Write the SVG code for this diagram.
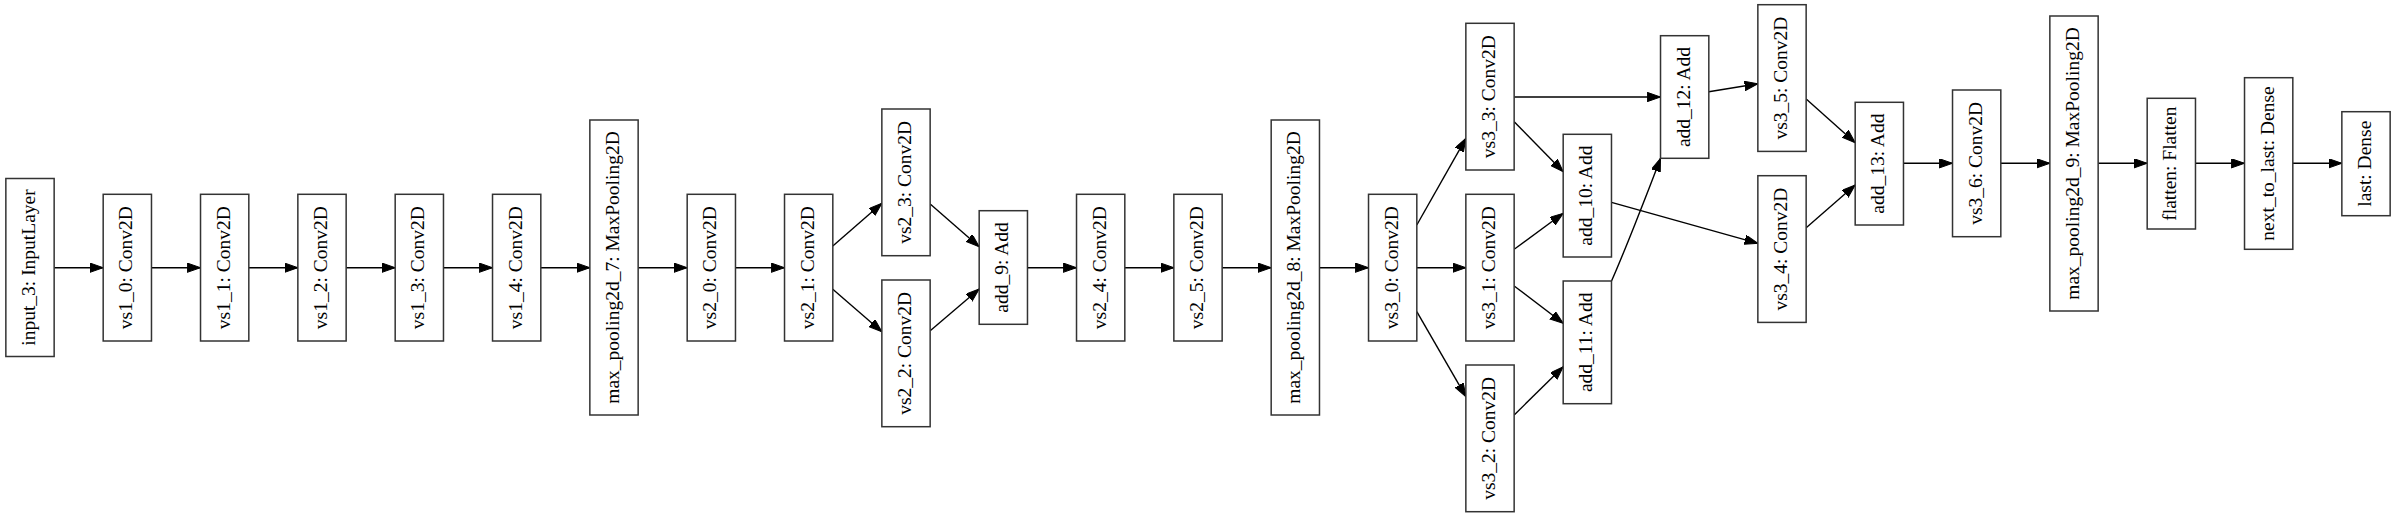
<svg xmlns="http://www.w3.org/2000/svg" width="2396" height="517" viewBox="0 0 2396 517">
<defs>
<style>
.node rect{fill:#fff;stroke:#333;stroke-width:1.5}
.node text{font-family:"Liberation Serif","Times New Roman",serif;font-size:19.5px;fill:#000;text-anchor:middle}
.edges path{fill:none;stroke:#000;stroke-width:1.4;marker-end:url(#ah)}
</style>
<marker id="ah" markerUnits="userSpaceOnUse" markerWidth="14" markerHeight="10" refX="13.3" refY="4.67" orient="auto">
<path d="M0,0 L13.3,4.67 L0,9.33 z" fill="#000" stroke="#000" stroke-width="1"/>
</marker>
</defs>
<rect width="2396" height="517" fill="#fff"/>
<g class="edges">
<path d="M54.2,267.7 L103.2,267.7"/>
<path d="M151.5,267.7 L200.5,267.7"/>
<path d="M248.8,267.7 L297.9,267.7"/>
<path d="M346.2,267.7 L395.2,267.7"/>
<path d="M443.5,267.7 L492.5,267.7"/>
<path d="M540.8,267.7 L589.9,267.7"/>
<path d="M638.2,267.7 L687.2,267.7"/>
<path d="M735.5,267.7 L784.5,267.7"/>
<path d="M832.8,246 L881.9,203.3"/>
<path d="M832.8,289.3 L881.9,331.7"/>
<path d="M930.2,204 L979.2,246.7"/>
<path d="M930.2,330.7 L979.2,289"/>
<path d="M1027.5,267.7 L1076.5,267.7"/>
<path d="M1124.8,267.7 L1173.9,267.7"/>
<path d="M1222.2,267.7 L1271.2,267.7"/>
<path d="M1319.5,267.7 L1368.5,267.7"/>
<path d="M1416.8,267.7 L1465.9,267.7"/>
<path d="M1416.8,225 L1465.9,138.3"/>
<path d="M1416.8,311.7 L1465.9,396.7"/>
<path d="M1514.2,97 L1660.5,97"/>
<path d="M1514.2,121.7 L1563.2,171.7"/>
<path d="M1514.2,249.3 L1563.2,213.3"/>
<path d="M1514.2,286 L1563.2,323.3"/>
<path d="M1514.2,415 L1563.2,366.7"/>
<path d="M1611.5,202.3 L1757.9,243.3"/>
<path d="M1611.5,281 C1621,260 1648,192 1660.5,158.3"/>
<path d="M1708.8,91.7 L1757.9,83.8"/>
<path d="M1806.2,99 L1855.2,142.7"/>
<path d="M1806.2,227.7 L1855.2,185"/>
<path d="M1903.5,163.3 L1952.5,163.3"/>
<path d="M2000.8,163.3 L2049.9,163.3"/>
<path d="M2098.2,163.3 L2147.2,163.3"/>
<path d="M2195.5,163.3 L2244.5,163.3"/>
<path d="M2292.8,163.3 L2341.9,163.3"/>
</g>
<g id="input_3" class="node"><rect x="5.85" y="178.5" width="48.3" height="178"/><text transform="translate(35,267.5) rotate(-90)">input_3: InputLayer</text></g>
<g id="vs1_0" class="node"><rect x="103.18" y="194.3" width="48.3" height="146.7"/><text transform="translate(132.33,267.65) rotate(-90)">vs1_0: Conv2D</text></g>
<g id="vs1_1" class="node"><rect x="200.52" y="194.3" width="48.3" height="146.7"/><text transform="translate(229.67,267.65) rotate(-90)">vs1_1: Conv2D</text></g>
<g id="vs1_2" class="node"><rect x="297.85" y="194.3" width="48.3" height="146.7"/><text transform="translate(327,267.65) rotate(-90)">vs1_2: Conv2D</text></g>
<g id="vs1_3" class="node"><rect x="395.18" y="194.3" width="48.3" height="146.7"/><text transform="translate(424.33,267.65) rotate(-90)">vs1_3: Conv2D</text></g>
<g id="vs1_4" class="node"><rect x="492.52" y="194.3" width="48.3" height="146.7"/><text transform="translate(521.67,267.65) rotate(-90)">vs1_4: Conv2D</text></g>
<g id="max_pooling2d_7" class="node"><rect x="589.85" y="120" width="48.3" height="295"/><text transform="translate(619,267.5) rotate(-90)">max_pooling2d_7: MaxPooling2D</text></g>
<g id="vs2_0" class="node"><rect x="687.18" y="194.3" width="48.3" height="146.7"/><text transform="translate(716.33,267.65) rotate(-90)">vs2_0: Conv2D</text></g>
<g id="vs2_1" class="node"><rect x="784.52" y="194.3" width="48.3" height="146.7"/><text transform="translate(813.67,267.65) rotate(-90)">vs2_1: Conv2D</text></g>
<g id="vs2_3" class="node"><rect x="881.85" y="109" width="48.3" height="146.7"/><text transform="translate(911,182.35) rotate(-90)">vs2_3: Conv2D</text></g>
<g id="vs2_2" class="node"><rect x="881.85" y="280" width="48.3" height="146.7"/><text transform="translate(911,353.35) rotate(-90)">vs2_2: Conv2D</text></g>
<g id="add_9" class="node"><rect x="979.18" y="210.7" width="48.3" height="113.6"/><text transform="translate(1008.33,267.5) rotate(-90)">add_9: Add</text></g>
<g id="vs2_4" class="node"><rect x="1076.52" y="194.3" width="48.3" height="146.7"/><text transform="translate(1105.67,267.65) rotate(-90)">vs2_4: Conv2D</text></g>
<g id="vs2_5" class="node"><rect x="1173.85" y="194.3" width="48.3" height="146.7"/><text transform="translate(1203,267.65) rotate(-90)">vs2_5: Conv2D</text></g>
<g id="max_pooling2d_8" class="node"><rect x="1271.18" y="120" width="48.3" height="295"/><text transform="translate(1300.33,267.5) rotate(-90)">max_pooling2d_8: MaxPooling2D</text></g>
<g id="vs3_0" class="node"><rect x="1368.52" y="194.3" width="48.3" height="146.7"/><text transform="translate(1397.67,267.65) rotate(-90)">vs3_0: Conv2D</text></g>
<g id="vs3_3" class="node"><rect x="1465.85" y="23.3" width="48.3" height="146.7"/><text transform="translate(1495,96.65) rotate(-90)">vs3_3: Conv2D</text></g>
<g id="vs3_1" class="node"><rect x="1465.85" y="194.3" width="48.3" height="146.7"/><text transform="translate(1495,267.65) rotate(-90)">vs3_1: Conv2D</text></g>
<g id="vs3_2" class="node"><rect x="1465.85" y="365" width="48.3" height="146.7"/><text transform="translate(1495,438.35) rotate(-90)">vs3_2: Conv2D</text></g>
<g id="add_10" class="node"><rect x="1563.18" y="134.3" width="48.3" height="122.7"/><text transform="translate(1592.33,195.65) rotate(-90)">add_10: Add</text></g>
<g id="add_11" class="node"><rect x="1563.18" y="281" width="48.3" height="122.7"/><text transform="translate(1592.33,342.35) rotate(-90)">add_11: Add</text></g>
<g id="add_12" class="node"><rect x="1660.52" y="35.7" width="48.3" height="122.6"/><text transform="translate(1689.67,97) rotate(-90)">add_12: Add</text></g>
<g id="vs3_5" class="node"><rect x="1757.85" y="4.7" width="48.3" height="146.7"/><text transform="translate(1787,78.05) rotate(-90)">vs3_5: Conv2D</text></g>
<g id="vs3_4" class="node"><rect x="1757.85" y="175.7" width="48.3" height="146.7"/><text transform="translate(1787,249.05) rotate(-90)">vs3_4: Conv2D</text></g>
<g id="add_13" class="node"><rect x="1855.18" y="102.3" width="48.3" height="122.7"/><text transform="translate(1884.33,163.65) rotate(-90)">add_13: Add</text></g>
<g id="vs3_6" class="node"><rect x="1952.52" y="90" width="48.3" height="146.7"/><text transform="translate(1981.67,163.35) rotate(-90)">vs3_6: Conv2D</text></g>
<g id="max_pooling2d_9" class="node"><rect x="2049.85" y="16" width="48.3" height="295"/><text transform="translate(2079,163.5) rotate(-90)">max_pooling2d_9: MaxPooling2D</text></g>
<g id="flatten" class="node"><rect x="2147.18" y="98.3" width="48.3" height="130.7"/><text transform="translate(2176.33,163.65) rotate(-90)">flatten: Flatten</text></g>
<g id="next_to_last" class="node"><rect x="2244.52" y="77.7" width="48.3" height="171.6"/><text transform="translate(2273.67,163.5) rotate(-90)">next_to_last: Dense</text></g>
<g id="last" class="node"><rect x="2341.85" y="111.7" width="48.3" height="104"/><text transform="translate(2371,163.7) rotate(-90)">last: Dense</text></g>
</svg>
